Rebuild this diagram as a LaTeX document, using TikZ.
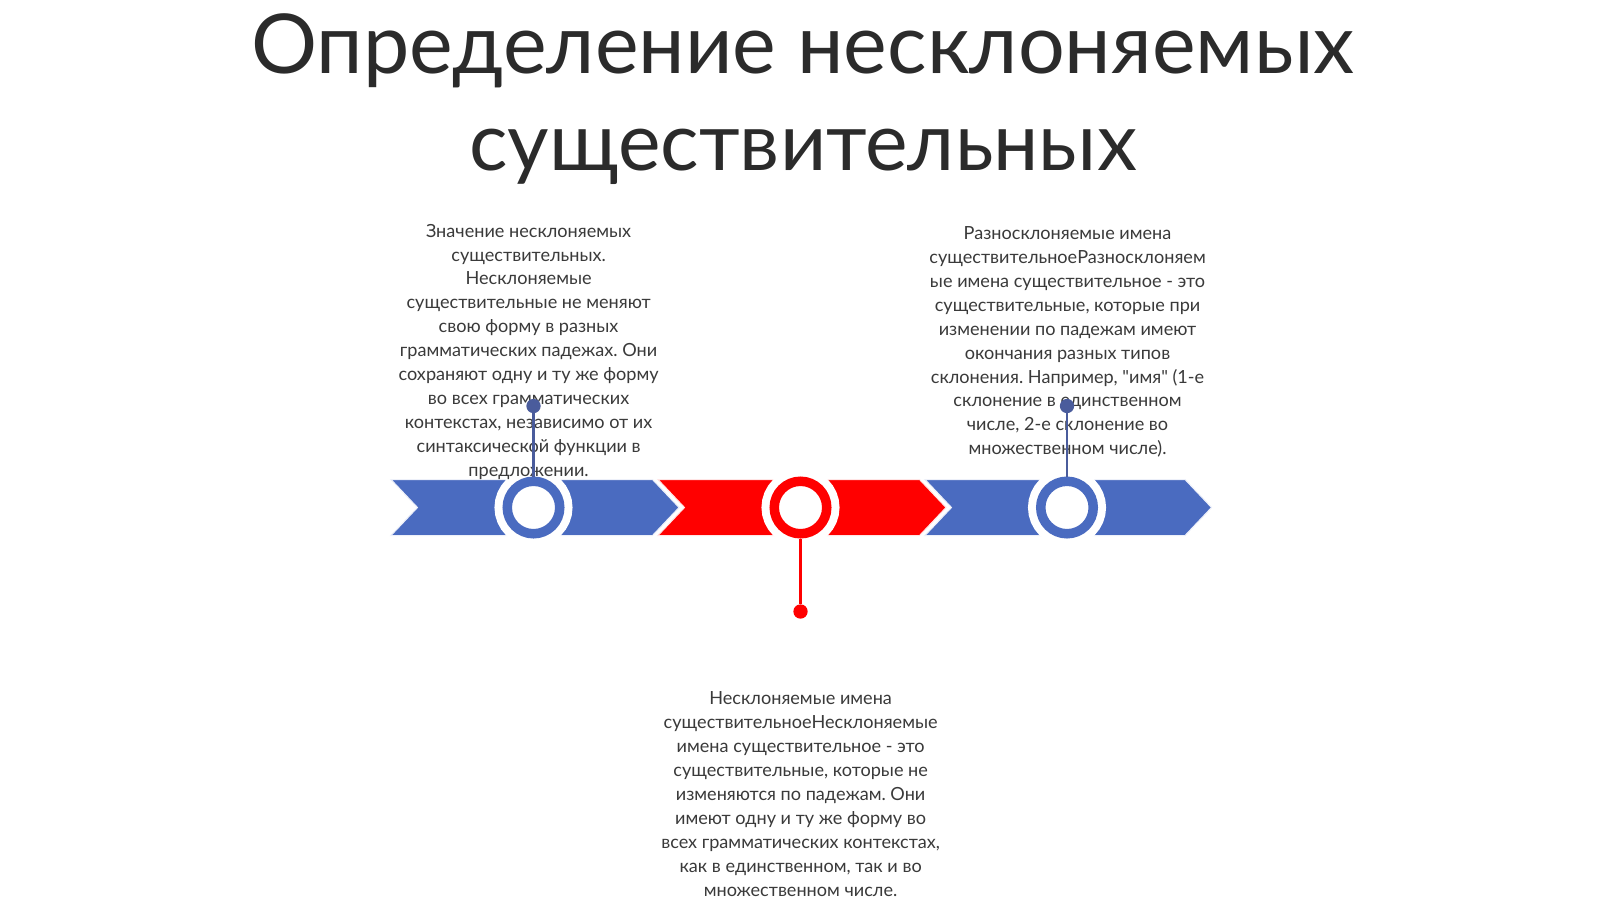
\documentclass[tikz,border=0pt]{standalone}
\usepackage{fontspec}
\setmainfont{Lato}
\newfontfamily\latofont{Lato}
\frenchspacing
\definecolor{chblue}{HTML}{4A6BC0}
\definecolor{chred}{HTML}{FF0000}
\definecolor{pinblue}{HTML}{4A5C9C}
\definecolor{txt}{HTML}{3A3A3A}
\definecolor{ttl}{HTML}{2B2B2B}
\begin{document}
\begin{tikzpicture}[x=1pt,y=-1pt,
  chev/.style={fill=#1, draw=white!90!#1, line width=1, line join=miter},
  ringnode/.style={circle, draw=#1, line width=9.5, fill=white, minimum size=52.5, inner sep=0,
     preaction={draw=white, line width=25.5}},
  dotnode/.style={circle, fill=#1, minimum size=14.3, inner sep=0},
  pin/.style={draw=#1, line width=2.6},
  body/.style={align=center, text=txt, inner sep=0, font=\latofont\frenchspacing\fontsize{18.1}{23.9}\selectfont},
  titlestyle/.style={align=center, text=ttl, inner sep=0, font=\latofont\fontsize{82.6}{97}\selectfont}]
\useasboundingbox (0,0) rectangle (1600,899);
\fill[white] (0,0) rectangle (1600,899);

% title
\node (title) [titlestyle] at (803,99) {Определение несклоняемых\\{\fontsize{80.5}{97}\selectfont существительных}};

% chevrons
\path[chev=chblue] (391,479.5) -- (652.5,479.5) -- (679,507.5) -- (652.5,535.5) -- (391,535.5) -- (417.5,507.5) -- cycle;
\path[chev=chred] (658,479.5) -- (919.5,479.5) -- (946,507.5) -- (919.5,535.5) -- (658,535.5) -- (684.5,507.5) -- cycle;
\path[chev=chblue] (925,479.5) -- (1185,479.5) -- (1211.5,507.5) -- (1185,535.5) -- (925,535.5) -- (951.5,507.5) -- cycle;

% rings
\node (c1) [ringnode=chblue] at (533.5,507.5) {};
\node (c2) [ringnode=chred] at (800.5,507.5) {};
\node (c3) [ringnode=chblue] at (1067,507.5) {};

% text blocks
\node (t1) [body] at (528.6,351.7) {Значение несклоняемых\\существительных.\\Несклоняемые\\существительные не меняют\\свою форму в разных\\грамматических падежах. Они\\сохраняют одну и ту же форму\\во всех грамматических\\контекстах, независимо от их\\синтаксической функции в\\предложении.};
\node (t3) [body] at (1067.5,342) {Разносклоняемые имена\\существительноеРазносклоняем\\ые имена существительное - это\\существительные, которые при\\изменении по падежам имеют\\окончания разных типов\\склонения. Например, "имя" (1-е\\склонение в единственном\\числе, 2-е склонение во\\множественном числе).};
\node (t2) [body] at (800.6,794) {Несклоняемые имена\\существительноеНесклоняемые\\имена существительное - это\\существительные, которые не\\изменяются по падежам. Они\\имеют одну и ту же форму во\\всех грамматических контекстах,\\как в единственном, так и во\\множественном числе.};

% pins
\node (d1) [dotnode=pinblue] at (533.5,406) {};
\node (d2) [dotnode=chred] at (800.5,611.5) {};
\node (d3) [dotnode=pinblue] at (1067,406) {};
\draw[pin=pinblue] (c1) -- (d1);
\draw[pin=chred] (c2) -- (d2);
\draw[pin=pinblue] (c3) -- (d3);
\end{tikzpicture}
\end{document}
